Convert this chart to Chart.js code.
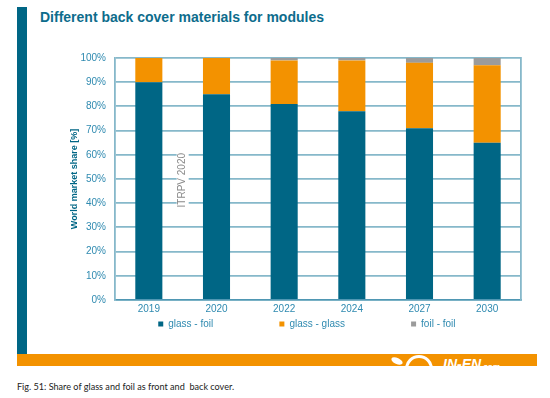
<!DOCTYPE html>
<html>
<head>
<meta charset="utf-8">
<script src="https://cdn.jsdelivr.net/npm/chart.js@4.4.1/dist/chart.umd.min.js"></script>
<style>
body{margin:0;width:550px;height:398px;position:relative;overflow:hidden;background:#fff;font-family:"Liberation Sans",Arial,sans-serif}
.sidebar{position:absolute;left:17px;top:7px;width:10px;height:347px;background:#006685}
.heading{position:absolute;left:40px;top:9px;font-size:14px;line-height:16px;font-weight:bold;color:#0d6c8c;white-space:nowrap}
.band{position:absolute;left:17px;top:354px;width:520px;height:12px;background:#f39200;overflow:hidden}
.ring{position:absolute;left:388px;top:1px;width:22px;height:22px;border:3px solid #fff;border-radius:50%}
.leaf{position:absolute;left:374px;top:4px;width:12px;height:6px;background:#fff;border-radius:50%;transform:rotate(25deg)}
.brand{position:absolute;left:426px;top:3px;color:#fff;font:italic bold 14px/14px "Liberation Sans",sans-serif;white-space:nowrap}
.brand small{font-size:8px}
.caption{position:absolute;left:17px;top:382px;font-family:Lato,sans-serif;font-size:9.1px;line-height:10px;color:#222;white-space:pre}
canvas{position:absolute;left:0;top:0}
</style>
</head>
<body>
<div class="sidebar"></div>
<div class="heading">Different back cover materials for modules</div>
<div class="band"><div class="leaf"></div><div class="ring"></div><div class="brand">IN-EN<small>.com</small></div></div>
<div class="caption">Fig. 51: Share of glass and foil as front and  back cover.</div>
<canvas id="chart" width="550" height="398"></canvas>
<script>
// values (world market share, %)
const years = ["2019", "2020", "2022", "2024", "2027", "2030"];
const glassFoil = [90, 85, 81, 78, 71, 65];
const glassGlass = [10, 15, 18, 21, 27, 32];
const foilFoil = [0, 0, 1, 1, 2, 3];
const seriesNames = ["glass - foil", "glass - glass", "foil - foil"];
const noteText = "ITRPV 2020";

const tickBlue = "#2f8ab0";
const gridBlue = "#86b8ca";

// trailing spaces stretch the legend items apart like in the original
const legendSpaces = [22, 22, 8];

const itrpvNote = {
  id: "itrpvNote",
  afterDatasetsDraw(chart) {
    const ctx = chart.ctx;
    const x = chart.scales.x, y = chart.scales.y;
    const px = (x.getPixelForValue(0) + x.getPixelForValue(1)) / 2;
    const py = y.getPixelForValue(49.5);
    ctx.save();
    ctx.font = '10px "Liberation Sans"';
    const w = ctx.measureText(noteText).width;
    ctx.fillStyle = "#fff";
    ctx.fillRect(px - 6, py - w / 2 - 3, 12, w + 6);
    ctx.translate(px, py);
    ctx.rotate(-Math.PI / 2);
    ctx.fillStyle = "#8a8a8a";
    ctx.textAlign = "center";
    ctx.textBaseline = "middle";
    ctx.fillText(noteText, 0, 0);
    ctx.restore();
  }
};

Chart.defaults.font.family = '"Liberation Sans", Arial, sans-serif';
Chart.defaults.font.size = 10;

var ctxChart = document.getElementById("chart").getContext("2d");
var myChart = new Chart(ctxChart, {
  type: "bar",
  data: {
    labels: years,
    datasets: [
      { label: seriesNames[0], data: glassFoil, backgroundColor: "#006685" },
      { label: seriesNames[1], data: glassGlass, backgroundColor: "#f39200" },
      { label: seriesNames[2], data: foilFoil, backgroundColor: "#9b9b9b" },
    ],
  },
  options: {
    responsive: false,
    animation: false,
    layout: { padding: { left: 68, right: 29, top: 58, bottom: 59 } },
    datasets: { bar: { categoryPercentage: 1, barPercentage: 0.4 } },
    plugins: {
      tooltip: { enabled: false },
      legend: {
        position: "bottom",
        fullSize: false,
        labels: {
          boxWidth: 5,
          boxHeight: 5,
          padding: 5,
          color: tickBlue,
          font: { size: 10 },
          generateLabels(chart) {
            const items = Chart.defaults.plugins.legend.labels.generateLabels(chart);
            items.forEach((it, i) => {
              it.text = it.text + " ".repeat(legendSpaces[i]);
              it.lineWidth = 0;
            });
            return items;
          },
        },
      },
    },
    scales: {
      x: {
        stacked: true,
        grid: { drawOnChartArea: false, drawTicks: false },
        border: { color: "#4f97b3", width: 1.5 },
        ticks: { color: tickBlue, padding: 3, font: { size: 10 } },
        afterFit(scale) { scale.height = 14; },
      },
      y: {
        stacked: true,
        min: 0,
        max: 100,
        ticks: {
          stepSize: 10,
          color: tickBlue,
          padding: 9,
          font: { size: 10 },
          callback: (v) => v + "%",
        },
        grid: { color: gridBlue, lineWidth: 1.8, drawTicks: false },
        border: { color: gridBlue, width: 1.8 },
        title: {
          display: true,
          text: "World market share [%]",
          color: "#006685",
          font: { size: 9, weight: "bold" },
          padding: { top: 1, bottom: 0 },
        },
        afterFit(scale) { scale.width = 47; },
      },
      y2: {
        position: "right",
        min: 0,
        max: 100,
        ticks: { display: false },
        grid: { drawOnChartArea: false, drawTicks: false },
        border: { color: gridBlue, width: 1.8 },
        afterFit(scale) { scale.width = 0; },
      },
    },
  },
  plugins: [itrpvNote],
});
</script>
</body>
</html>
